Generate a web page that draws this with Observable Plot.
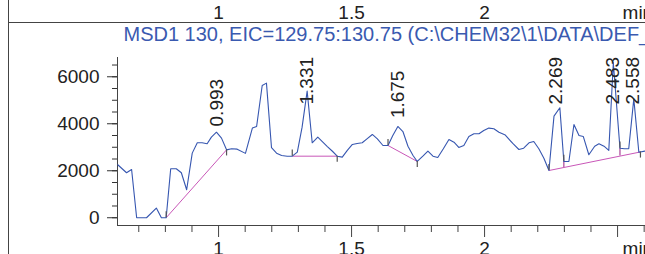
<!DOCTYPE html>
<html><head><meta charset="utf-8">
<script src="https://cdn.jsdelivr.net/npm/d3@7"></script>
<script src="https://cdn.jsdelivr.net/npm/@observablehq/plot@0.6"></script>
<style>html,body{margin:0;padding:0;background:#fff;overflow:hidden} svg{display:block}</style>
</head><body><div id="chart"></div>
<script>
// ---- data ----
const titleText = "MSD1 130, EIC=129.75:130.75 (C:\\CHEM32\\1\\DATA\\DEF_L";
const times = [0.621,0.654,0.673,0.692,0.729,0.766,0.785,0.803,0.820,0.841,0.860,0.880,0.901,0.920,0.938,0.957,0.973,0.992,1.011,1.030,1.049,1.070,1.101,1.127,1.143,1.164,1.180,1.199,1.218,1.237,1.258,1.277,1.296,1.314,1.333,1.352,1.373,1.391,1.409,1.428,1.446,1.465,1.484,1.503,1.521,1.540,1.559,1.578,1.597,1.618,1.637,1.655,1.674,1.693,1.712,1.731,1.747,1.768,1.787,1.806,1.824,1.845,1.866,1.885,1.903,1.922,1.941,1.960,1.979,1.997,2.016,2.035,2.054,2.078,2.107,2.129,2.147,2.167,2.185,2.204,2.223,2.242,2.261,2.283,2.298,2.317,2.336,2.355,2.371,2.392,2.414,2.430,2.449,2.467,2.484,2.509,2.526,2.542,2.561,2.580,2.602];
const intensity = [2255,1915,2055,0,0,410,0,0,2085,2085,1915,1190,2750,3190,3190,3150,3430,3640,3390,2890,2935,2920,2740,3815,3885,5630,5730,2980,2750,2650,2620,2620,2790,3855,5390,3190,3430,3230,3030,2830,2620,2580,2865,3120,3160,3190,3370,3545,3360,3075,3075,3500,3885,3670,3045,2650,2395,2620,2835,2620,2565,2935,3330,3215,2990,3075,3460,3575,3575,3715,3815,3785,3640,3520,3150,2905,2960,3190,3245,2935,2535,2010,4325,4680,2395,2395,3970,3500,3460,2680,3045,3150,3045,2865,6600,2960,2935,2935,5060,2790,2835];

const peakTimes = [0.993,1.331,1.675,2.269,2.483,2.558];
const peakLabels = ["0.993","1.331","1.675","2.269","2.483","2.558"];
const peakLabelY = [3885,4820,4240,4820,4820,4820];

const baseStartT = [0.803,1.277,1.637,2.242];
const baseStartV = [0,2620,3075,2010];
const baseEndT = [1.030,1.446,1.747,2.586];
const baseEndV = [2890,2620,2395,2800];

const tickUpT = [0.803,1.277,1.637,2.242,2.298,2.509];
const tickUpV = [0,2620,3075,2010,2395,2960];
const tickDownT = [1.030,1.446,1.747,2.586];
const tickDownV = [2890,2620,2395,2800];

const dropT = [2.298,2.509];
const dropBaseV = [2140,2625];
const dropTopV = [2395,2960];

const yTicks = [0,2000,4000,6000];
const yTickLabels = ["0","2000","4000","6000"];
const yMinorTicks = [0,500,1000,1500,2000,2500,3000,3500,4000,4500,5000,5500,6000,6500];
const xMajorTicks = [1,1.5,2,2.5];
const xLabelTicks = [1,1.5,2];
const xTickLabels = ["1","1.5","2"];
const xMinorTicks = [0.7,0.8,0.9,1.1,1.2,1.3,1.4,1.6,1.7,1.8,1.9,2.1,2.2,2.3,2.4,2.6];
const unitLabel = "min";
const unitAt = 2.5;

// ---- drawing ----
const xDomain = [0.62, 2.605];
const yDomain = [-330, 6820];
const trace = times.map((t, i) => ({t, v: intensity[i]}));
const idx = (a) => a.map((_, i) => i);
const font = "'Liberation Sans', Arial, Helvetica, sans-serif";
const tickLen = 260;

const chart = Plot.plot({
  width: 645, height: 254,
  marginLeft: 117, marginRight: 0, marginTop: 57, marginBottom: 29,
  style: {fontFamily: font, background: "#fff", color: "#222"},
  x: {domain: xDomain, label: null},
  y: {domain: yDomain, label: null},
  marks: [
    Plot.axisY(yMinorTicks, {tickSize: 5, tickFormat: () => "", label: null, stroke: "#333"}),
    Plot.axisY(yTicks, {tickSize: 10, tickPadding: 8, fontSize: 19, label: null, stroke: "#333", fill: "#222",
      tickFormat: d => yTickLabels[yTicks.indexOf(d)]}),
    Plot.axisX(xMinorTicks, {tickSize: 7, tickFormat: () => "", label: null, stroke: "#444"}),
    Plot.axisX(xMajorTicks, {tickSize: 12, tickPadding: 4, fontSize: 19, label: null, stroke: "#444", fill: "#222",
      tickFormat: d => { const k = xLabelTicks.indexOf(d); return k >= 0 ? xTickLabels[k] : ""; }}),
    Plot.text([unitLabel], {x: () => unitAt, frameAnchor: "bottom", dy: 16, dx: 5, textAnchor: "start", lineAnchor: "top", fontSize: 19, fill: "#222"}),
    Plot.ruleX([xDomain[0]], {stroke: "#444"}),
    Plot.ruleY([yDomain[0]], {stroke: "#444"}),
    // top strip (previous panel's axis labels) and title
    Plot.text(xLabelTicks, {x: d => d, text: (d, i) => xTickLabels[i], frameAnchor: "top", dy: -38.5, lineAnchor: "bottom", fontSize: 19, fill: "#222"}),
    Plot.text([unitLabel], {x: () => unitAt, frameAnchor: "top", dy: -38.5, dx: 5, textAnchor: "start", lineAnchor: "bottom", fontSize: 19, fill: "#222"}),
    Plot.text([titleText], {frameAnchor: "top-left", dx: 6, dy: -16.5, textAnchor: "start", lineAnchor: "bottom", fontSize: 20, fill: "#3a5ab0"}),
    // baselines
    Plot.link(idx(baseStartT), {x1: i => baseStartT[i], y1: i => baseStartV[i], x2: i => baseEndT[i], y2: i => baseEndV[i], stroke: "#c957b8", strokeWidth: 1}),
    Plot.ruleX(idx(dropT), {x: i => dropT[i], y1: i => dropBaseV[i], y2: i => dropTopV[i], stroke: "#b0509f", strokeWidth: 1.3}),
    // trace
    Plot.line(trace, {x: "t", y: "v", stroke: "#3656b0", strokeWidth: 1.1}),
    // start / end tick marks
    Plot.ruleX(idx(tickUpT), {x: i => tickUpT[i], y1: i => tickUpV[i], y2: i => tickUpV[i] + tickLen, stroke: "#555", strokeWidth: 1.2}),
    Plot.ruleX(idx(tickDownT), {x: i => tickDownT[i], y1: i => tickDownV[i], y2: i => tickDownV[i] - tickLen, stroke: "#555", strokeWidth: 1.2}),
    // peak labels
    Plot.text(idx(peakTimes), {x: i => peakTimes[i], y: i => peakLabelY[i], text: i => peakLabels[i], rotate: -90, textAnchor: "start", lineAnchor: "middle", fontSize: 19, fill: "#222"})
  ]
});

const svg = d3.select(chart);
svg.append("line").attr("x1", 8.5).attr("x2", 8.5).attr("y1", 0).attr("y2", 254).attr("stroke", "#444");
svg.append("line").attr("x1", 8).attr("x2", 645).attr("y1", 22.5).attr("y2", 22.5).attr("stroke", "#444");
document.getElementById("chart").appendChild(chart);
</script>
</body></html>
